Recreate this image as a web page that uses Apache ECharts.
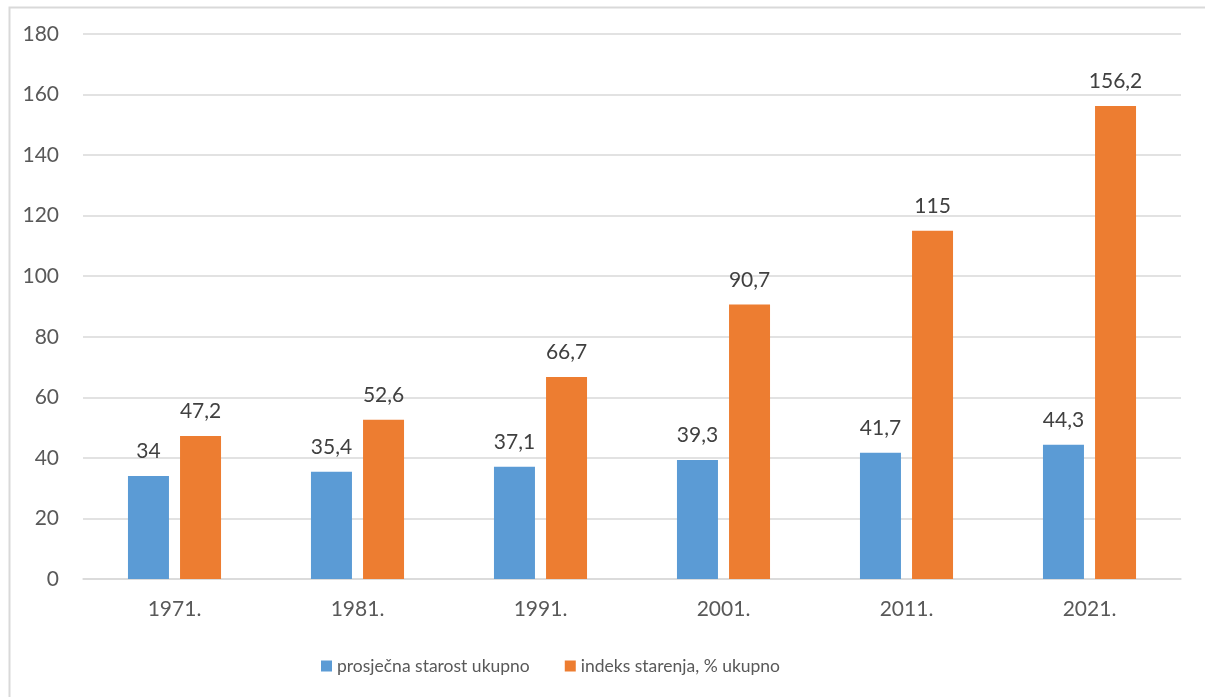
<!DOCTYPE html>
<html>
<head>
<meta charset="utf-8">
<script src="https://cdn.jsdelivr.net/npm/echarts@6/dist/echarts.min.js"></script>
<style>
html,body{margin:0;padding:0;background:#fff;}
#chart{width:1205px;height:697px;}
</style>
</head>
<body>
<div id="chart"></div>
<script>
var categories = ['1971.', '1981.', '1991.', '2001.', '2011.', '2021.'];
var seriesNames = ['prosječna starost ukupno', 'indeks starenja, % ukupno'];
var averageAge = [34, 35.4, 37.1, 39.3, 41.7, 44.3];
var agingIndex = [47.2, 52.6, 66.7, 90.7, 115, 156.2];

var FONT = 'Lato';
var TEXT = '#595959';
function fmt(p) { return String(p.value).replace('.', ','); }

var chart = echarts.init(document.getElementById('chart'), null, {renderer: 'canvas'});
chart.setOption({
  animation: false,
  backgroundColor: '#ffffff',
  textStyle: {fontFamily: FONT, color: TEXT},
  graphic: [{
    type: 'rect', left: 7, top: 5, silent: true,
    shape: {width: 1220, height: 720},
    style: {fill: 'none', stroke: '#D9D9D9', lineWidth: 2}
  }],
  grid: {left: 83, right: 24, top: 34, bottom: 118, containLabel: false},
  legend: {
    left: 316, top: 652,
    itemWidth: 11, itemHeight: 11, itemGap: 35,
    icon: 'rect',
    textStyle: {fontFamily: FONT, fontSize: 17.5, color: TEXT, padding: [0, 0, 0, 0]},
    data: seriesNames
  },
  xAxis: {
    type: 'category',
    data: categories,
    axisLine: {show: true, lineStyle: {color: '#D9D9D9', width: 1.5}},
    axisTick: {show: false},
    axisLabel: {fontFamily: FONT, fontSize: 21, color: TEXT, margin: 20}
  },
  yAxis: {
    type: 'value',
    min: 0, max: 180, interval: 20,
    axisLine: {show: false},
    axisTick: {show: false},
    axisLabel: {fontFamily: FONT, fontSize: 21, color: TEXT, margin: 24},
    splitLine: {lineStyle: {color: '#D9D9D9', width: 1.5}}
  },
  series: [{
    name: seriesNames[0],
    type: 'bar',
    data: averageAge,
    barWidth: 41,
    barGap: '27%',
    itemStyle: {color: '#5B9BD5'},
    label: {show: true, position: 'top', distance: 14, fontFamily: FONT, fontSize: 21, color: '#404040', formatter: fmt}
  }, {
    name: seriesNames[1],
    type: 'bar',
    data: agingIndex,
    barWidth: 41,
    barGap: '27%',
    itemStyle: {color: '#ED7D31'},
    label: {show: true, position: 'top', distance: 14, fontFamily: FONT, fontSize: 21, color: '#404040', formatter: fmt}
  }]
});
</script>
</body>
</html>
